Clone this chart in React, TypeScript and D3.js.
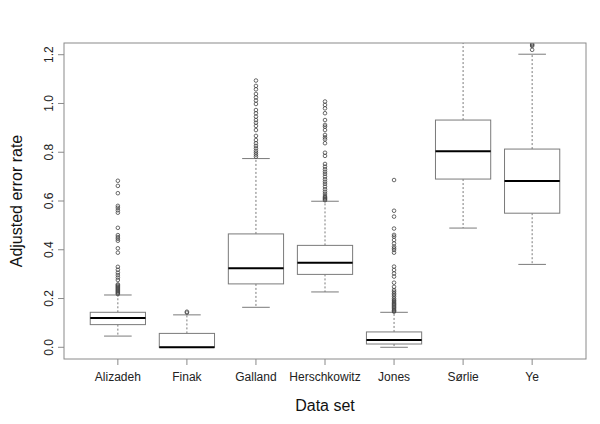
import React from "react";
import * as d3 from "d3";

const categories = ["Alizadeh", "Finak", "Galland", "Herschkowitz", "Jones", "Sørlie", "Ye"];
// [lower whisker, Q1, median, Q3, upper whisker]
const lowerWhisker = [0.046, 0.0, 0.164, 0.227, 0.0, 0.489, 0.34];
const q1 = [0.093, 0.0, 0.26, 0.299, 0.0135, 0.69, 0.55];
const medians = [0.12, 0.0, 0.324, 0.347, 0.03, 0.804, 0.682];
const q3 = [0.1436, 0.057, 0.465, 0.418, 0.063, 0.932, 0.813];
const upperWhisker = [0.2145, 0.133, 0.774, 0.599, 0.1435, 1.3, 1.202];

const outliersAlizadeh = [0.218, 0.222, 0.226, 0.23, 0.234, 0.238, 0.242, 0.246, 0.25, 0.254, 0.258, 0.276, 0.286, 0.296, 0.306, 0.318, 0.33, 0.388, 0.406, 0.437, 0.445, 0.452, 0.46, 0.49, 0.552, 0.562, 0.572, 0.58, 0.632, 0.662, 0.683];
const outliersFinak = [0.142, 0.146];
const outliersGalland = [0.782, 0.79, 0.798, 0.806, 0.816, 0.826, 0.837, 0.85, 0.867, 0.891, 0.908, 0.921, 0.932, 0.946, 0.96, 0.973, 0.998, 1.012, 1.025, 1.039, 1.058, 1.072, 1.094];
const outliersHerschkowitz = [0.603, 0.607, 0.611, 0.615, 0.62, 0.629, 0.638, 0.648, 0.659, 0.67, 0.679, 0.689, 0.7, 0.711, 0.72, 0.73, 0.741, 0.752, 0.785, 0.798, 0.837, 0.853, 0.861, 0.871, 0.891, 0.905, 0.912, 0.932, 0.96, 0.98, 0.994, 1.008];
const outliersJones = [0.146, 0.15, 0.153, 0.158, 0.163, 0.167, 0.172, 0.176, 0.18, 0.185, 0.19, 0.194, 0.2, 0.208, 0.215, 0.221, 0.228, 0.235, 0.248, 0.265, 0.29, 0.303, 0.317, 0.331, 0.388, 0.399, 0.406, 0.413, 0.426, 0.44, 0.454, 0.461, 0.487, 0.536, 0.56, 0.686];
const outliersSorlie: number[] = [];
const outliersYe = [1.22, 1.236, 1.24, 1.244];
const outliers = [outliersAlizadeh, outliersFinak, outliersGalland, outliersHerschkowitz, outliersJones, outliersSorlie, outliersYe];

const yTicks = [0.0, 0.2, 0.4, 0.6, 0.8, 1.0, 1.2];

const W = 600;
const H = 424;
const plotL = 64;
const plotR = 586;
const plotT = 43;
const plotB = 359;

export default function App() {
  const x = d3.scaleLinear().domain([0.22, 7.78]).range([plotL, plotR]);
  const y = d3.scaleLinear().domain([-0.048, 1.248]).range([plotB, plotT]);
  const boxHalf = (x(1.4) - x(1)) ;
  const capHalf = boxHalf / 2;
  const lineCol = "#7a7a7a";
  const font = "'Liberation Sans', Arial, Helvetica, sans-serif";

  return (
    <svg width={W} height={H} style={{ position: "absolute", left: 0, top: 0, background: "#fff" }}>
      <defs>
        <clipPath id="plotclip">
          <rect x={plotL} y={plotT} width={plotR - plotL} height={plotB - plotT} />
        </clipPath>
      </defs>
      <rect x={0} y={0} width={W} height={H} fill="#fff" />
      <g clipPath="url(#plotclip)">
        {categories.map((c, i) => {
          const cx = x(i + 1);
          return (
            <g key={c}>
              <line x1={cx} x2={cx} y1={y(q3[i])} y2={y(upperWhisker[i])} stroke={lineCol} strokeWidth={1} strokeDasharray="2,2" />
              <line x1={cx} x2={cx} y1={y(q1[i])} y2={y(lowerWhisker[i])} stroke={lineCol} strokeWidth={1} strokeDasharray="2,2" />
              <line x1={cx - capHalf} x2={cx + capHalf} y1={y(upperWhisker[i])} y2={y(upperWhisker[i])} stroke={lineCol} strokeWidth={1} />
              <line x1={cx - capHalf} x2={cx + capHalf} y1={y(lowerWhisker[i])} y2={y(lowerWhisker[i])} stroke={lineCol} strokeWidth={1} />
              <rect x={cx - boxHalf} y={y(q3[i])} width={2 * boxHalf} height={Math.max(0, y(q1[i]) - y(q3[i]))} fill="#fff" stroke={lineCol} strokeWidth={1} />
              <line x1={cx - boxHalf} x2={cx + boxHalf} y1={y(medians[i])} y2={y(medians[i])} stroke="#000" strokeWidth={2} />
              {outliers[i].map((v, j) => (
                <circle key={j} cx={cx} cy={y(v)} r={1.8} fill="none" stroke="#444" strokeWidth={0.8} />
              ))}
            </g>
          );
        })}
      </g>
      <rect x={plotL} y={plotT} width={plotR - plotL} height={plotB - plotT} fill="none" stroke="#8a8a8a" strokeWidth={1} />
      {/* y axis */}
      <line x1={plotL - 7} x2={plotL - 7} y1={y(0)} y2={y(1.2)} stroke="#8a8a8a" strokeWidth={0} />
      {yTicks.map((t) => (
        <g key={t}>
          <line x1={plotL - 6} x2={plotL} y1={y(t)} y2={y(t)} stroke="#8a8a8a" strokeWidth={1} />
          <text
            x={0}
            y={0}
            transform={`translate(${plotL - 11},${y(t)}) rotate(-90)`}
            textAnchor="middle"
            fontFamily={font}
            fontSize={12}
            fill="#222"
          >
            {t.toFixed(1)}
          </text>
        </g>
      ))}
      {/* x axis */}
      {categories.map((c, i) => (
        <g key={c}>
          <line x1={x(i + 1)} x2={x(i + 1)} y1={plotB} y2={plotB + 6} stroke="#8a8a8a" strokeWidth={1} />
          <text x={x(i + 1)} y={plotB + 22} textAnchor="middle" fontFamily={font} fontSize={12} fill="#222">
            {c}
          </text>
        </g>
      ))}
      <text x={(plotL + plotR) / 2} y={plotB + 52} textAnchor="middle" fontFamily={font} fontSize={16} fill="#111">
        Data set
      </text>
      <text
        transform={`translate(${22},${(plotT + plotB) / 2}) rotate(-90)`}
        textAnchor="middle"
        fontFamily={font}
        fontSize={16}
        fill="#111"
      >
        Adjusted error rate
      </text>
    </svg>
  );
}
